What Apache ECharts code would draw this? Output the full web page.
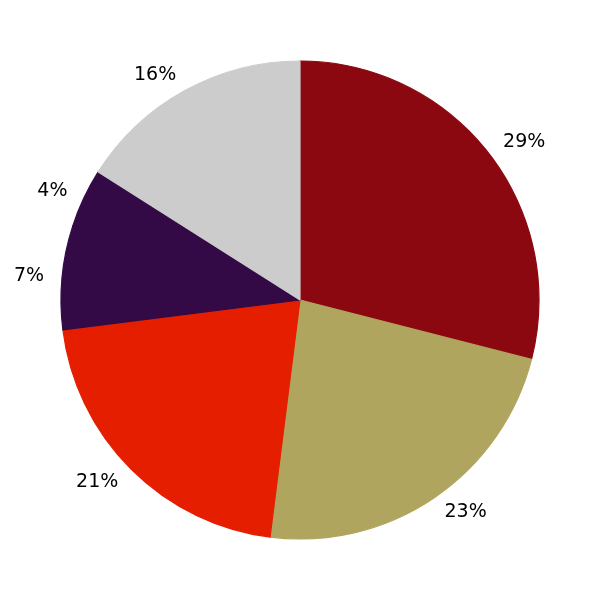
<!DOCTYPE html>
<html>
<head>
<meta charset="utf-8">
<script src="https://cdn.jsdelivr.net/npm/echarts@6/dist/echarts.min.js"></script>
<style>html,body{margin:0;padding:0;background:#fff}#c{width:600px;height:600px}</style>
</head>
<body>
<div id="c"></div>
<script>
const categories = ['A', 'B', 'C', 'D', 'E', 'F'];
const values = [29, 23, 21, 7, 4, 16];
const colors = ['#8B0810', '#B0A55F', '#E61E00', '#330A45', '#330A45', '#CCCCCC'];

const chart = echarts.init(document.getElementById('c'), null, {renderer: 'canvas'});
chart.setOption({
  animation: false,
  backgroundColor: '#ffffff',
  series: [{
    type: 'pie',
    center: ['50%', '50%'],
    radius: 239,
    startAngle: 90,
    clockwise: true,
    avoidLabelOverlap: false,
    silent: true,
    data: categories.map((n, i) => ({
      name: n,
      value: values[i],
      itemStyle: {color: colors[i], borderColor: colors[i], borderWidth: 1.2}
    })),
    label: {
      show: true,
      position: 'outside',
      formatter: '{c}%',
      fontFamily: 'DejaVu Sans',
      fontSize: 19,
      color: '#000',
      distanceToLabelLine: 0
    },
    labelLine: {show: false, length: 18, length2: 0},
    emphasis: {disabled: true}
  }]
});
</script>
</body>
</html>
